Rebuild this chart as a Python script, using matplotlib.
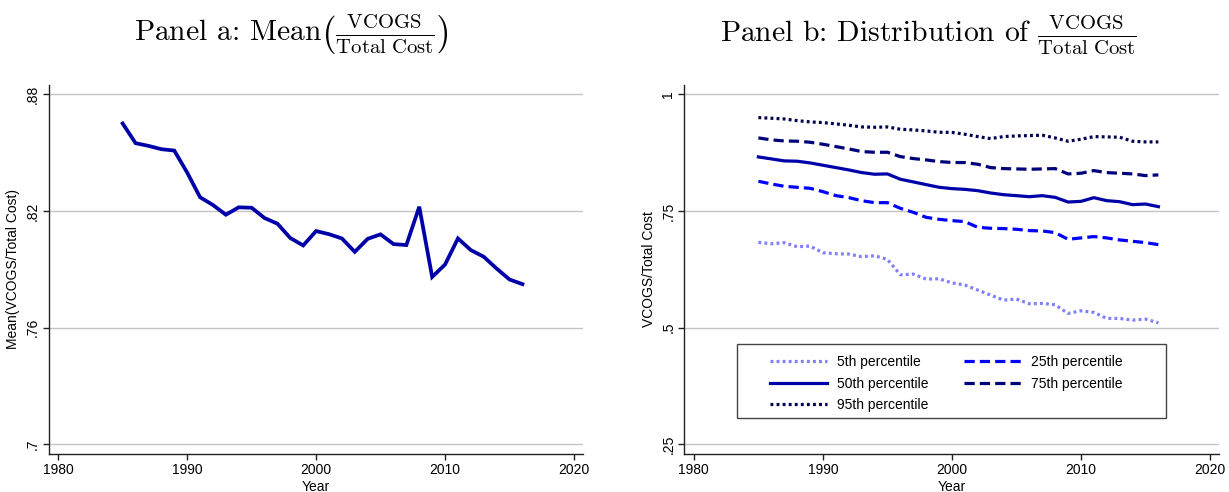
import matplotlib
matplotlib.use('Agg')
import matplotlib.pyplot as plt
from matplotlib.patches import Rectangle

plt.rcParams['font.family'] = ['Liberation Sans', 'DejaVu Sans']
plt.rcParams['mathtext.fontset'] = 'cm'

years = list(range(1985, 2017))

# mean of VCOGS / total cost by year
mean_share = [0.8650, 0.8549, 0.8535, 0.8518, 0.8511, 0.8398, 0.8271, 0.8231,
              0.8181, 0.8219, 0.8217, 0.8164, 0.8135, 0.8061, 0.8023, 0.8097,
              0.8081, 0.8059, 0.7990, 0.8057, 0.8080, 0.8030, 0.8025, 0.8222,
              0.7861, 0.7925, 0.8059, 0.7999, 0.7965, 0.7904, 0.7848, 0.7824]

# percentiles of the distribution by year
p5 = [0.6828, 0.6799, 0.6821, 0.6735, 0.6749, 0.6606, 0.6585, 0.6578,
      0.6521, 0.6542, 0.6463, 0.6134, 0.6148, 0.6041, 0.6048, 0.5960,
      0.5913, 0.5806, 0.5698, 0.5591, 0.5613, 0.5513, 0.5520, 0.5491,
      0.5305, 0.5362, 0.5327, 0.5198, 0.5198, 0.5162, 0.5184, 0.5105]
p25 = [0.8137, 0.8080, 0.8030, 0.8008, 0.7987, 0.7915, 0.7830, 0.7787,
       0.7722, 0.7679, 0.7679, 0.7558, 0.7472, 0.7365, 0.7322, 0.7294,
       0.7273, 0.7151, 0.7130, 0.7123, 0.7109, 0.7080, 0.7073, 0.7037,
       0.6894, 0.6923, 0.6952, 0.6923, 0.6880, 0.6851, 0.6823, 0.6780]
p50 = [0.8659, 0.8617, 0.8574, 0.8567, 0.8531, 0.8481, 0.8431, 0.8381,
       0.8324, 0.8288, 0.8295, 0.8181, 0.8124, 0.8066, 0.8009, 0.7980,
       0.7964, 0.7936, 0.7886, 0.7850, 0.7829, 0.7807, 0.7829, 0.7793,
       0.7693, 0.7707, 0.7786, 0.7722, 0.7700, 0.7636, 0.7650, 0.7593]
p75 = [0.9067, 0.9024, 0.9002, 0.8995, 0.8974, 0.8931, 0.8881, 0.8831,
       0.8774, 0.8759, 0.8759, 0.8666, 0.8624, 0.8595, 0.8559, 0.8540,
       0.8538, 0.8502, 0.8431, 0.8409, 0.8402, 0.8395, 0.8402, 0.8409,
       0.8295, 0.8309, 0.8366, 0.8323, 0.8309, 0.8295, 0.8259, 0.8274]
p95 = [0.9502, 0.9488, 0.9473, 0.9437, 0.9409, 0.9395, 0.9367, 0.9338,
       0.9302, 0.9295, 0.9302, 0.9252, 0.9238, 0.9216, 0.9188, 0.9185,
       0.9145, 0.9095, 0.9052, 0.9095, 0.9109, 0.9117, 0.9124, 0.9066,
       0.8995, 0.9038, 0.9095, 0.9088, 0.9081, 0.8995, 0.8981, 0.8981]

xticks = [1980, 1990, 2000, 2010, 2020]
yticks_a = [0.7, 0.76, 0.82, 0.88]
ylabels_a = ['.7', '.76', '.82', '.88']
yticks_b = [0.25, 0.5, 0.75, 1.0]
ylabels_b = ['.25', '.5', '.75', '1']

fig = plt.figure(figsize=(12.29, 4.92), dpi=100)
ax_a = fig.add_axes([0.0396, 0.0778, 0.435, 0.7494])
ax_b = fig.add_axes([0.5568, 0.0778, 0.4353, 0.7494])


def style_axis(ax, yticks, ylabels, ylim, ylabel):
    ax.set_xlim(1979.26, 2020.72)
    ax.set_ylim(*ylim)
    ax.set_xticks(xticks)
    ax.set_xticklabels([str(t) for t in xticks])
    ax.set_yticks(yticks)
    ax.set_yticklabels(ylabels, rotation=90, va='center')
    ax.grid(axis='y', color='#c4c4c4', linewidth=1.0)
    ax.set_axisbelow(True)
    for side in ('top', 'right'):
        ax.spines[side].set_visible(False)
    for side in ('left', 'bottom'):
        ax.spines[side].set_color('#222222')
        ax.spines[side].set_linewidth(1.0)
    ax.tick_params(direction='out', length=4.5, width=1.0, color='#222222',
                   labelsize=10, pad=2)
    ax.set_xlabel('Year', fontsize=10, labelpad=2)
    ax.set_ylabel(ylabel, fontsize=10, labelpad=4)


# panel a: mean share over time
ax_a.plot(years, mean_share, color='#0000a8', linewidth=2.7,
          solid_joinstyle='miter')
style_axis(ax_a, yticks_a, ylabels_a, (0.6952, 0.8848),
           'Mean(VCOGS/Total Cost)')

# panel b: percentiles
lw = 2.3
l5, = ax_b.plot(years, p5, color='#8080ff', linewidth=lw,
                linestyle=(0, (0.9, 1.0)), label='5th percentile')
l25, = ax_b.plot(years, p25, color='#0000ff', linewidth=lw,
                 linestyle=(0, (3.2, 1.6)), label='25th percentile')
l50, = ax_b.plot(years, p50, color='#0000a8', linewidth=lw,
                 label='50th percentile')
l75, = ax_b.plot(years, p75, color='#00007a', linewidth=lw,
                 linestyle=(0, (3.2, 1.6)), label='75th percentile')
l95, = ax_b.plot(years, p95, color='#00004e', linewidth=lw,
                 linestyle=(0, (0.9, 1.0)), label='95th percentile')
style_axis(ax_b, yticks_b, ylabels_b, (0.2299, 1.02), 'VCOGS/Total Cost')

# legend entries without frame, box drawn separately for wider padding
ax_b.legend(handles=[l5, l50, l95, l25, l75], ncol=2,
            loc='upper left', bbox_to_anchor=(0.160, 0.2677),
            fontsize=10, frameon=False,
            handlelength=4.1, handletextpad=0.72, columnspacing=2.6,
            labelspacing=0.54, borderpad=0, borderaxespad=0)
ax_b.add_patch(Rectangle((0.0985, 0.0968), 0.8019, 0.2007,
                         transform=ax_b.transAxes, fill=False,
                         edgecolor='#444444', linewidth=1.0, zorder=5))

fig.text(291 / 1229, 1 - 35 / 492,
         r'Panel a: Mean$\left(\frac{\mathrm{VCOGS}}{\mathrm{Total\ Cost}}\right)$',
         family='cmr10', ha='center', va='center', fontsize=21.3)
fig.text(928 / 1229, 1 - 35 / 492,
         r'Panel b: Distribution of $\frac{\mathrm{VCOGS}}{\mathrm{Total\ Cost}}$',
         family='cmr10', ha='center', va='center', fontsize=21.3)

fig.savefig('out.png', dpi=100)
